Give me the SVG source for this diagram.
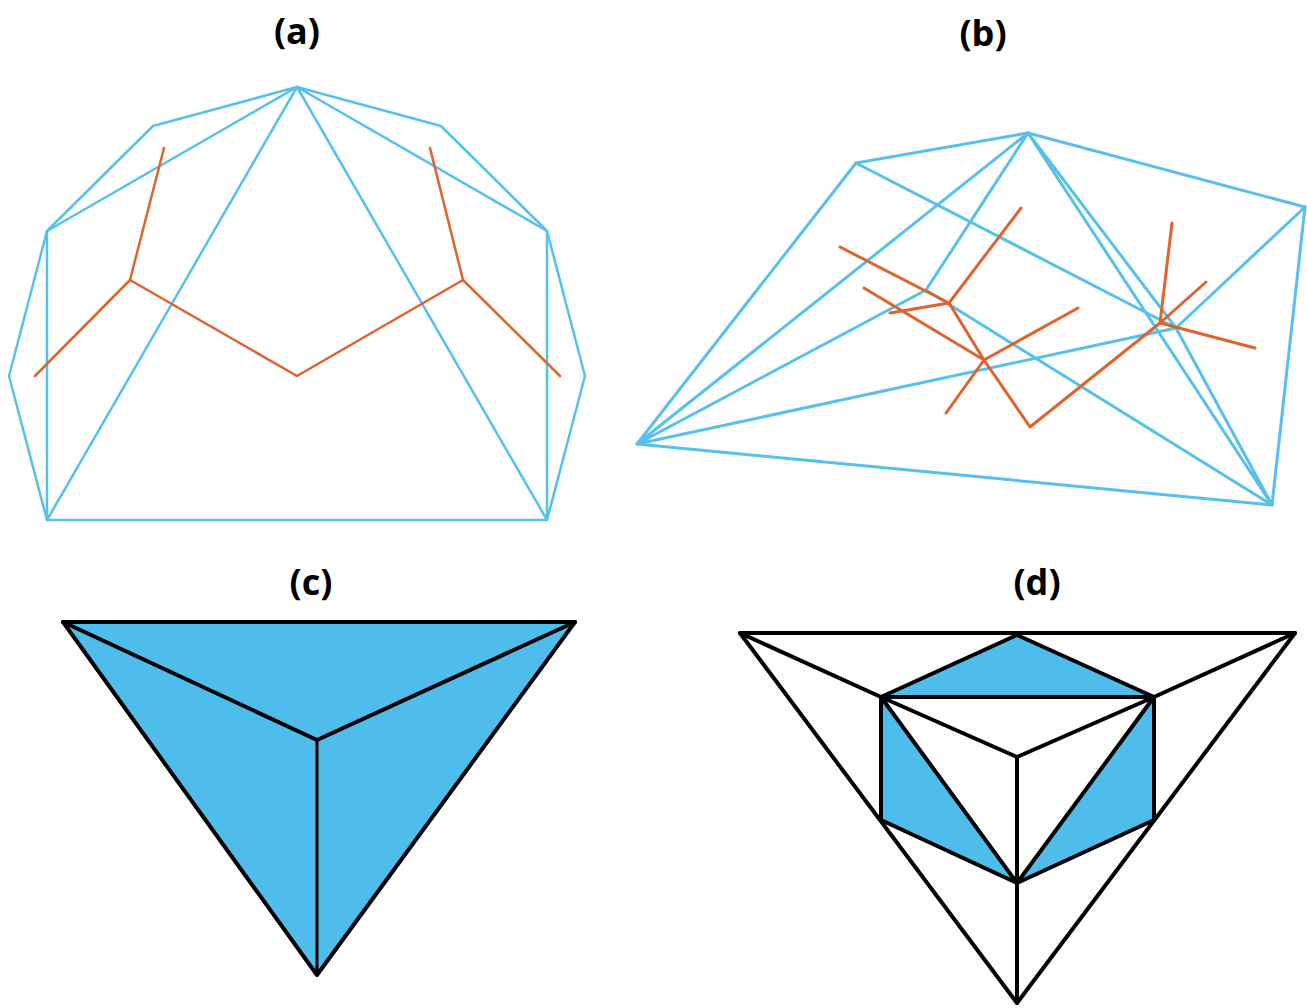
<svg xmlns="http://www.w3.org/2000/svg" width="1307" height="1008" viewBox="0 0 1307 1008">
<style>
.t{font-family:"Open Sans","Liberation Sans",sans-serif;font-weight:bold;font-size:36px;text-anchor:middle;fill:#000}
.b{fill:none;stroke:#56C1EC;stroke-width:2.5;stroke-linejoin:round;stroke-linecap:round}
.o{fill:none;stroke:#E0622C;stroke-width:2.5;stroke-linejoin:round;stroke-linecap:round}
.k{fill:none;stroke:#000;stroke-width:4;stroke-linejoin:round;stroke-linecap:round}
.f{fill:#4EBDEC;stroke:none}
</style>
<rect width="1307" height="1008" fill="#fff"/>
<g id="titles">
<text class="t" x="297" y="44">(a)</text>
<text class="t" x="983" y="46">(b)</text>
<text class="t" x="311" y="595">(c)</text>
<text class="t" x="1037" y="595">(d)</text>
</g>
<g id="panel-a">
<polygon class="b" points="297,87 153,126 47,231 9,376 47,520 547,520 585,376 547,231 441,126"/>
<path class="b" d="M47,231 L297,87 L547,231 M47,231 L47,520 M547,231 L547,520 M47,520 L297,87 L547,520"/>
<path class="o" d="M35,376 L130,280 L297,376 L463,280 L560,376 M130,280 L164,148 M463,280 L430,148"/>
</g>
<g id="panel-b">
<polygon class="b" style="stroke-width:3" points="637,444 856,163 1028,133 1305,207 1272,505"/>
<path class="b" style="stroke-width:3" d="M1028,133 L637,444 M1028,133 L926,290 L637,444 M926,290 L1272,505 M856,163 L1176,328 L637,444 M1305,207 L1176,328 M1028,133 L1176,328 L1272,505 M1028,133 L1272,505"/>
<path class="o" style="stroke-width:3" d="M840,247 L949,303 L1021,208 M890,313 L949,303 L984,360 L1030,427 L1160,323 M864,288 L984,360 L1078,308 M984,360 L946,413 M1160,323 L1172,223 M1160,323 L1206,282 M1160,323 L1255,348"/>
</g>
<g id="panel-c">
<polygon class="f" points="63,622 575,622 317,975"/>
<polygon class="k" points="63,622 575,622 317,975"/>
<path class="k" d="M63,622 L317,740 L575,622"/>
<path class="k" style="stroke-width:3" d="M317,740 L317,975"/>
</g>
<g id="panel-d">
<polygon class="f" points="1017,635 881,697 1154,697"/>
<polygon class="f" points="881,697 881,820 1017,883"/>
<polygon class="f" points="1154,697 1154,820 1017,883"/>
<polygon class="k" points="740,633 1295,633 1017,1003"/>
<path class="k" d="M740,633 L881,697 M1295,633 L1154,697 M1017,635 L881,697 L1154,697 Z M881,697 L881,820 L1017,883 L1154,820 L1154,697 M881,697 L1017,757 L1154,697 M1017,757 L1017,1003 M881,697 L1017,883 L1154,697"/>
</g>
</svg>
